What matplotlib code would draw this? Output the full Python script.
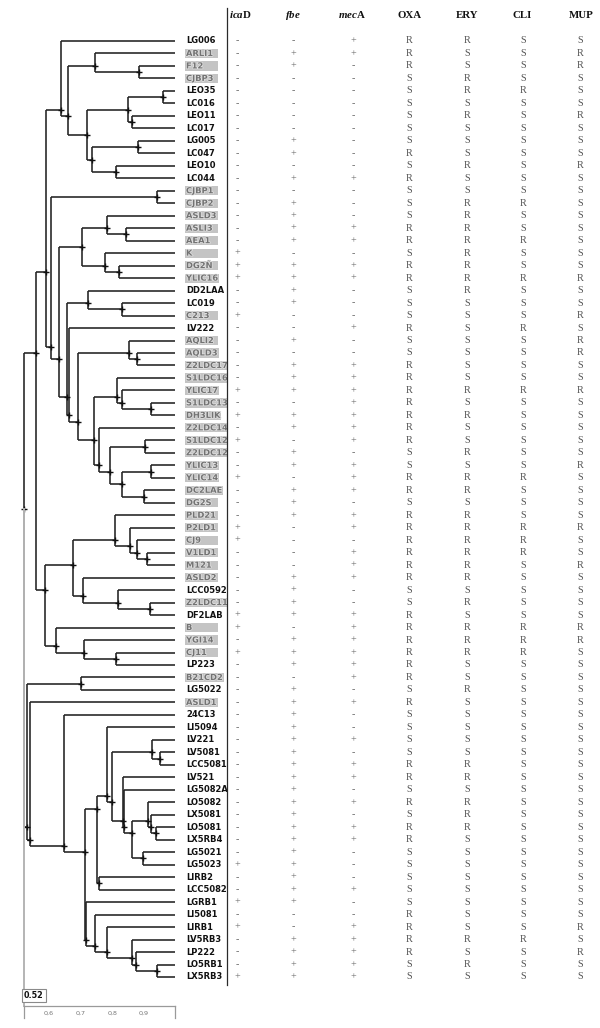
import matplotlib
matplotlib.use('Agg')
import matplotlib.pyplot as plt
from matplotlib.transforms import blended_transform_factory
from matplotlib.patches import Rectangle
import matplotlib.patheffects as pe
import numpy as np

plt.rcParams['mathtext.fontset'] = 'custom'
plt.rcParams['mathtext.it'] = 'Liberation Serif:italic:bold'
plt.rcParams['mathtext.rm'] = 'Liberation Serif:bold'

# ---------------- data ----------------
strains = ["LG006", "ARLI1", "F12", "CJBP3", "LEO35", "LC016", "LEO11", "LC017",
           "LG005", "LC047", "LEO10", "LC044", "CJBP1", "CJBP2", "ASLD3", "ASLI3",
           "AEA1", "K", "DG2Ñ", "YLIC16", "DD2LAA", "LC019", "C213", "LV222",
           "AQLI2", "AQLD3", "Z2LDC17", "S1LDC16", "YLIC17", "S1LDC13", "DH3LIK",
           "Z2LDC14", "S1LDC12", "Z2LDC12", "YLIC13", "YLIC14", "DC2LAE", "DG2S",
           "PLD21", "P2LD1", "CJ9", "V1LD1", "M121", "ASLD2", "LCC0592", "Z2LDC11",
           "DF2LAB", "B", "YGI14", "CJ11", "LP223", "B21CD2", "LG5022", "ASLD1",
           "24C13", "LI5094", "LV221", "LV5081", "LCC5081", "LV521", "LG5082A",
           "LO5082", "LX5081", "LO5081", "LX5RB4", "LG5021", "LG5023", "LIRB2",
           "LCC5082", "LGRB1", "LI5081", "LIRB1", "LV5RB3", "LP222", "LO5RB1", "LX5RB3"]

highlighted = ["ARLI1", "F12", "CJBP3", "CJBP1", "CJBP2", "ASLD3", "ASLI3", "AEA1",
               "K", "DG2Ñ", "YLIC16", "C213", "AQLI2", "AQLD3", "Z2LDC17", "S1LDC16",
               "YLIC17", "S1LDC13", "DH3LIK", "Z2LDC14", "S1LDC12", "Z2LDC12",
               "YLIC13", "YLIC14", "DC2LAE", "DG2S", "PLD21", "P2LD1", "CJ9", "V1LD1",
               "M121", "ASLD2", "Z2LDC11", "B", "YGI14", "CJ11", "B21CD2", "ASLD1"]

# one entry per strain (rows 1..76), written in groups of ten rows
icaD = ("- - - - - - - - - - " "- - - - - - - + + + " "- - + - - - - - + - "
        "+ - + - - + - - - + " "+ - - - - - + + - + " "- - - - - - - - - - "
        "- - - - - - + - - + " "- + - - - +").split()
fbe = ("- + + - - - - - + + " "- + - + + + + - + + " "+ + - - + - + + + - "
       "+ + - + + - + + + - " "- - - + + + + - + + " "+ - + + + + + + + + "
       "+ + + + + + + + + + " "- - + + + +").split()
mecA = ("+ + - - - - - - - - " "- + - - - + + - + + " "- - - + - - + + + + "
        "+ + + - + + + - + + " "- + + + - - + + + + " "+ + - + - - + - + + "
        "- + - + + - - - + - " "- + + + + +").split()
OXA = ("R R R S S S S S S R " "S R S S S R R S R R " "S S S R S S R R R R "
       "R R R S S R R S R R " "R R R R S S R R R R " "R R S R S S S S R R "
       "S R S R R S S S S S " "R R R R S S").split()
ERY = ("R S S R R S R S S S " "R S S R R R R R R R " "R S S S S S S S R S "
       "R S S R S R R S R R " "R R R R S R S R R R " "S S R S S S S S R R "
       "S R R R S S S S S S " "S S R S R S").split()
CLI = ("S S S S R S S S S S " "S S S R S S R S S R " "S S S R S S S S R S "
       "S S S S S R S S S R " "R R S S S S S R R R " "S S S S S S S S S S "
       "S S S S S S S S S S " "S S R S S S").split()
MUP = ("S R R S S S R S S S " "R S S S S S S S S R " "S S R S R R S S R S "
       "S S S S R S S S S R " "S S R S S S S R R S " "S S S S S S S S S S "
       "S S S S S S S S S S " "S R S R S S").split()

columns = ["icaD", "fbe", "mecA", "OXA", "ERY", "CLI", "MUP"]
column_values = [icaD, fbe, mecA, OXA, ERY, CLI, MUP]

# clusters: (first row, first row of 2nd child, last row, similarity)
clusters = [
    (1, 52, 76, 0.520),
    (1, 39, 51, 0.559),
    (1, 13, 38, 0.590),
    (1, 2, 12, 0.638), (2, 5, 12, 0.660), (2, 3, 4, 0.746), (3, 4, 4, 0.885),
    (5, 9, 12, 0.720), (5, 7, 8, 0.850), (5, 6, 6, 0.961), (7, 8, 8, 0.863),
    (9, 11, 12, 0.736), (9, 10, 10, 0.882), (11, 12, 12, 0.812),
    (13, 15, 38, 0.606), (13, 14, 14, 0.942),
    (15, 21, 38, 0.632), (15, 18, 20, 0.704), (15, 16, 17, 0.784), (16, 17, 17, 0.844),
    (18, 19, 20, 0.777), (19, 20, 20, 0.822),
    (21, 24, 38, 0.657), (21, 22, 23, 0.723), (22, 23, 23, 0.831),
    (24, 25, 38, 0.662), (25, 28, 38, 0.692), (25, 26, 27, 0.853), (26, 27, 27, 0.878),
    (28, 32, 38, 0.742), (28, 29, 31, 0.815), (29, 30, 31, 0.831), (30, 31, 31, 0.923),
    (32, 33, 38, 0.758), (33, 35, 38, 0.793), (33, 34, 34, 0.904),
    (35, 37, 38, 0.831), (35, 36, 36, 0.923), (37, 38, 38, 0.901),
    (39, 48, 51, 0.587), (39, 44, 47, 0.676), (39, 40, 43, 0.809), (40, 41, 43, 0.856),
    (41, 42, 43, 0.878), (42, 43, 43, 0.910),
    (44, 45, 47, 0.708), (45, 46, 47, 0.818), (46, 47, 47, 0.920),
    (48, 49, 51, 0.622), (49, 50, 51, 0.711), (50, 51, 51, 0.812),
    (52, 54, 76, 0.531), (52, 53, 53, 0.701),
    (54, 55, 76, 0.538), (55, 56, 76, 0.648), (56, 70, 76, 0.714),
    (56, 68, 69, 0.751), (56, 57, 67, 0.783), (57, 60, 67, 0.799),
    (57, 58, 59, 0.926), (58, 59, 59, 0.951),
    (60, 61, 67, 0.834), (61, 62, 67, 0.837), (62, 66, 67, 0.863),
    (62, 63, 65, 0.913), (63, 64, 65, 0.923), (64, 65, 65, 0.940), (66, 67, 67, 0.899),
    (68, 69, 69, 0.758),
    (70, 71, 76, 0.717), (71, 72, 76, 0.746), (72, 73, 76, 0.784),
    (73, 74, 76, 0.863), (74, 75, 76, 0.875), (75, 76, 76, 0.942),
]

cutoff = 0.52
scale_ticks = [0.6, 0.7, 0.8, 0.9]

# ---------------- layout ----------------
W, H = 600, 1028
fig = plt.figure(figsize=(W / 100, H / 100), dpi=100)
fig.patch.set_facecolor('white')


def fx(px):
    return px / W


def fy(py):
    return 1 - py / H


n = len(strains)
ax = fig.add_axes([fx(24), fy(977), fx(175) - fx(24), fy(41) - fy(977)])
ax.set_xlim(0.52, 1.0)
ax.set_ylim(n, 1)
ax.axis('off')

line_kw = dict(color='#222222', lw=1.15, clip_on=False, solid_capstyle='butt')

nodes = {}
for first, split, last, sim in clusters:
    nodes[(first, last)] = (sim, np.mean(np.arange(first, last + 1)))


def pos(a, b):
    if a == b:
        return (1.0, a)
    return nodes[(a, b)]


for first, split, last, sim in clusters:
    c1 = pos(first, split - 1)
    c2 = pos(split, last)
    ax.plot([sim, sim], [c1[1], c2[1]], **line_kw)
    ax.plot([sim, c1[0]], [c1[1], c1[1]], **line_kw)
    ax.plot([sim, c2[0]], [c2[1], c2[1]], **line_kw)

for (first, last), (sim, y) in nodes.items():
    ax.plot(sim, y, marker='+', ms=4, mew=1.0, color='#111111', clip_on=False, zorder=4)

# cutoff gray line from root down to scale
root_sim, root_y = nodes[(1, n)]
trans_xd_yf = blended_transform_factory(ax.transData, fig.transFigure)
y_root_fig = fig.transFigure.inverted().transform(ax.transData.transform((root_sim, root_y)))[1]
ax.plot([cutoff, cutoff], [y_root_fig, fy(1006)], transform=trans_xd_yf, color='#b4b4b4',
        lw=1.4, clip_on=False, zorder=5)

ax.text(cutoff, fy(995.5), "0.52", transform=trans_xd_yf, ha='left', va='center',
        fontsize=5.8, fontweight='bold', family='DejaVu Sans', color='#111111', zorder=7,
        bbox=dict(boxstyle='square,pad=0.22', fc='white', ec='#8a8a8a', lw=0.8))

# scale bar
ax_s = fig.add_axes([fx(24), fy(1018), fx(175) - fx(24), (1018 - 1006) / H])
ax_s.set_xlim(0.52, 1.0)
ax_s.set_ylim(0, 1)
ax_s.set_xticks([])
ax_s.set_yticks([])
ax_s.patch.set_alpha(0)
for sp in ['top', 'left', 'right']:
    ax_s.spines[sp].set_color('#9a9a9a')
    ax_s.spines[sp].set_linewidth(0.9)
ax_s.spines['bottom'].set_visible(False)
for t in scale_ticks:
    ax_s.text(t, 0.4, f"{t:.1f}".replace('.', ','), ha='center', va='center',
              fontsize=4.6, color='#777777', family='DejaVu Sans')

# labels
trans_xf_yd = blended_transform_factory(fig.transFigure, ax.transData)
renderer = fig.canvas.get_renderer()
for i, name in enumerate(strains):
    row = i + 1
    hl = name in highlighted
    t = ax.text(fx(186), row, name, transform=trans_xf_yd, ha='left', va='center',
                fontsize=6.0, fontweight='bold', family='DejaVu Sans',
                color='#737373' if hl else '#111111', zorder=3)
    if hl:
        t.set_path_effects([pe.withStroke(linewidth=1.0, foreground='#e4e4e4')])
        bb = t.get_window_extent(renderer=renderer)
        x_end_px = max(218, bb.x1 + 1)
        x_end_px = min(x_end_px, 227)
        ax.add_patch(Rectangle((fx(185), row - 0.37), fx(x_end_px) - fx(185), 0.74,
                               transform=trans_xf_yd, facecolor='#c4c4c4',
                               edgecolor='none', clip_on=False, zorder=2))

# separator line
fig.add_artist(plt.Line2D([fx(227), fx(227)], [fy(8), fy(985)], color='#2a2a2a', lw=0.9))

# table
col_px = [237, 293, 353, 409, 467, 523, 580]
head_px = [229, 293, 352, 410, 467, 522, 581]
headers = [r"$\mathit{ica}$D", r"$\mathit{fbe}$", r"$\mathit{mec}$A", "OXA", "ERY", "CLI", "MUP"]
for k, (hdr, hx) in enumerate(zip(headers, head_px)):
    fig.text(fx(hx), fy(15), hdr, ha='left' if k == 0 else 'center', va='center',
             fontsize=7.8, fontweight='bold', family='Liberation Serif', color='#111111')

for cx, vals in zip(col_px, column_values):
    for i, v in enumerate(vals):
        col = '#555555' if v in 'RS' else '#6a6a6a'
        ax.text(fx(cx), i + 1, v, transform=trans_xf_yd, ha='center', va='center',
                fontsize=7.3, family='Liberation Serif', color=col)

fig.savefig('out.png', dpi=100, facecolor='white')
